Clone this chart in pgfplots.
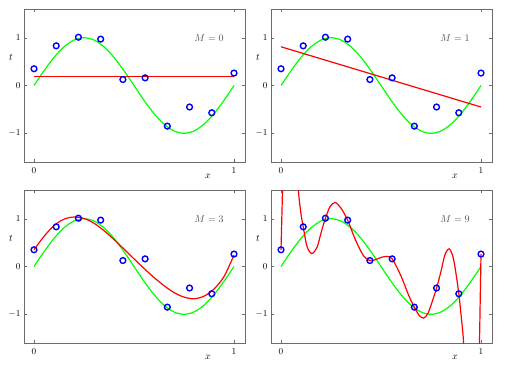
\documentclass[border=0pt]{standalone}
\usepackage{pgfplots}
\usepackage{pgfplotstable}
\pgfplotsset{compat=1.18}

\pgfplotstableread{
x t
0.0000 0.35
0.1111 0.83
0.2222 1.01
0.3333 0.97
0.4444 0.125
0.5556 0.16
0.6667 -0.85
0.7778 -0.45
0.8889 -0.57
1.0000 0.26
}\obs

\pgfplotstableread{
x y
0.00 0.000
0.05 0.309
0.10 0.588
0.15 0.809
0.20 0.951
0.25 1.000
0.30 0.951
0.35 0.809
0.40 0.588
0.45 0.309
0.50 0.000
0.55 -0.309
0.60 -0.588
0.65 -0.809
0.70 -0.951
0.75 -1.000
0.80 -0.951
0.85 -0.809
0.90 -0.588
0.95 -0.309
1.00 0.000
}\sine

\pgfplotstableread{
x y
0 0.18
1 0.18
}\mzero

\pgfplotstableread{
x y
0 0.81
1 -0.45
}\mone

\pgfplotstableread{
x y
0.00 0.35
0.05 0.63
0.10 0.855
0.15 0.99
0.20 1.035
0.25 1.005
0.30 0.905
0.35 0.75
0.40 0.565
0.45 0.365
0.50 0.16
0.55 -0.04
0.60 -0.23
0.65 -0.40
0.70 -0.545
0.75 -0.64
0.80 -0.675
0.85 -0.62
0.90 -0.47
0.95 -0.21
1.00 0.24
}\mthree

\pgfplotstableread{
x y
0.000 0.35
0.004 1.0
0.008 1.7
0.015 3.0
0.040 5.0
0.070 3.5
0.080 2.4
0.087 1.6
0.100 1.1
0.111 0.83
0.130 0.42
0.154 0.27
0.180 0.40
0.200 0.70
0.222 1.01
0.245 1.25
0.270 1.34
0.300 1.22
0.333 0.97
0.370 0.58
0.410 0.24
0.444 0.125
0.470 0.14
0.500 0.19
0.530 0.21
0.556 0.16
0.600 -0.20
0.640 -0.62
0.667 -0.85
0.690 -1.02
0.713 -1.08
0.735 -0.98
0.757 -0.72
0.778 -0.45
0.800 -0.10
0.820 0.25
0.841 0.37
0.860 0.20
0.875 -0.15
0.889 -0.57
0.900 -1.00
0.913 -1.60
0.930 -3.00
0.955 -4.50
0.975 -3.50
0.985 -2.20
0.992 -1.60
0.996 -0.70
1.000 0.26
}\mnine

\pgfplotsset{
  bish/.style={
    scale only axis, width=221pt, height=153pt,
    xmin=-0.05, xmax=1.055, ymin=-1.6, ymax=1.6,
    xtick={0,1}, ytick={-1,0,1},
    tick align=inside, major tick length=3pt,
    axis line style={draw=gray!85!black, line width=0.6pt},
    tick style={draw=gray!85!black},
    tick label style={font=\small},
    xticklabel style={yshift=-2pt},
    xlabel={$x$}, ylabel={$t$},
    every axis x label/.style={at={(rel axis cs:0.833,0)}, anchor=center, yshift=-14pt},
    every axis y label/.style={at={(rel axis cs:0,0.686)}, anchor=center, xshift=-13pt},
    anchor=south west,
  },
  sinestyle/.style={color=green, line width=1.2pt, smooth},
  fitstyle/.style={color=red, line width=1.2pt},
  obsstyle/.style={only marks, mark=o, mark size=2.9pt, color=blue, line width=1.4pt},
}

\begin{document}
\begin{tikzpicture}[x=1pt,y=1pt]
\useasboundingbox (0,0) rectangle (510,365);

\begin{axis}[bish, at={(24pt,203pt)}]
\addplot[sinestyle] table {\sine};
\addplot[fitstyle] table {\mzero};
\addplot[obsstyle] table {\obs};
\node[text=gray!65!black] at (axis cs:0.875,1) {$M = 0$};
\end{axis}

\begin{axis}[bish, at={(271pt,203pt)}]
\addplot[sinestyle] table {\sine};
\addplot[fitstyle] table {\mone};
\addplot[obsstyle] table {\obs};
\node[text=gray!65!black] at (axis cs:0.87,1) {$M = 1$};
\end{axis}

\begin{axis}[bish, at={(24pt,22pt)}]
\addplot[sinestyle] table {\sine};
\addplot[fitstyle, smooth] table {\mthree};
\addplot[obsstyle] table {\obs};
\node[text=gray!65!black] at (axis cs:0.875,1) {$M = 3$};
\end{axis}

\begin{axis}[bish, at={(271pt,22pt)}]
\addplot[sinestyle] table {\sine};
\addplot[fitstyle, smooth] table {\mnine};
\addplot[obsstyle] table {\obs};
\node[text=gray!65!black] at (axis cs:0.87,1) {$M = 9$};
\end{axis}
\end{tikzpicture}
\end{document}
